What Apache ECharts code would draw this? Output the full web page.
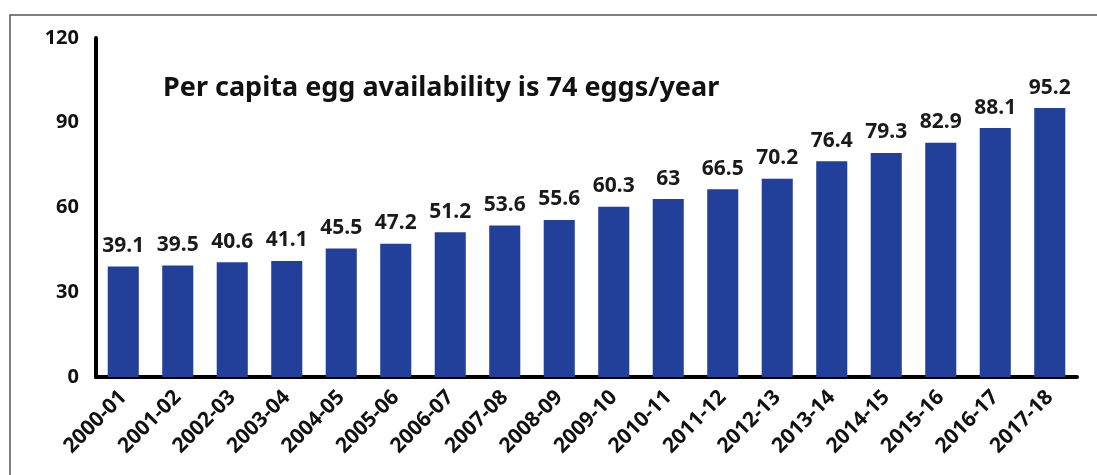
<!DOCTYPE html>
<html><head><meta charset="utf-8">
<script src="https://cdn.jsdelivr.net/npm/echarts@6/dist/echarts.min.js"></script>
<style>html,body{margin:0;padding:0;background:#fff}#c{width:1097px;height:475px}</style>
</head><body><div id="c"></div>
<script>
const categories = ["2000-01","2001-02","2002-03","2003-04","2004-05","2005-06","2006-07","2007-08","2008-09","2009-10","2010-11","2011-12","2012-13","2013-14","2014-15","2015-16","2016-17","2017-18"];
const eggValues = [39.1,39.5,40.6,41.1,45.5,47.2,51.2,53.6,55.6,60.3,63,66.5,70.2,76.4,79.3,82.9,88.1,95.2];
const yTicks = [0,30,60,90,120];
const noteText = "Per capita egg availability is 74 eggs/year";

const font = "'Noto Sans', sans-serif";
const chart = echarts.init(document.getElementById('c'));
chart.setOption({
  animation: false,
  backgroundColor: '#fff',
  grid: { left: 96, right: 20, top: 38, bottom: 98, containLabel: false },
  title: { text: noteText, left: 158, top: 70,
    textStyle: { fontFamily: font, fontSize: 27, fontWeight: 'bold', color: '#111' } },
  graphic: [{ type: 'rect', shape: { x: 10, y: 15, width: 1200, height: 600 },
    style: { fill: 'none', stroke: '#555', lineWidth: 1.5 }, silent: true }],
  xAxis: { type: 'category', data: categories,
    axisLine: { lineStyle: { color: '#000', width: 4 } },
    axisTick: { show: false },
    axisLabel: { rotate: 45, interval: 0, margin: 17, fontFamily: font, fontSize: 21, fontWeight: 'bold', color: '#111' } },
  yAxis: { type: 'value', min: yTicks[0], max: yTicks[yTicks.length-1], interval: 30,
    axisLine: { show: true, lineStyle: { color: '#000', width: 4 } },
    axisTick: { show: false }, splitLine: { show: false },
    axisLabel: { margin: 17, fontFamily: font, fontSize: 20, fontWeight: 'bold', color: '#111' } },
  series: [{ type: 'bar', data: eggValues, barWidth: '57%',
    itemStyle: { color: '#22409a' },
    label: { show: true, position: 'top', distance: 10, fontFamily: font, fontSize: 21, fontWeight: 'bold', color: '#1a1a1a' } }]
});
</script></body></html>
